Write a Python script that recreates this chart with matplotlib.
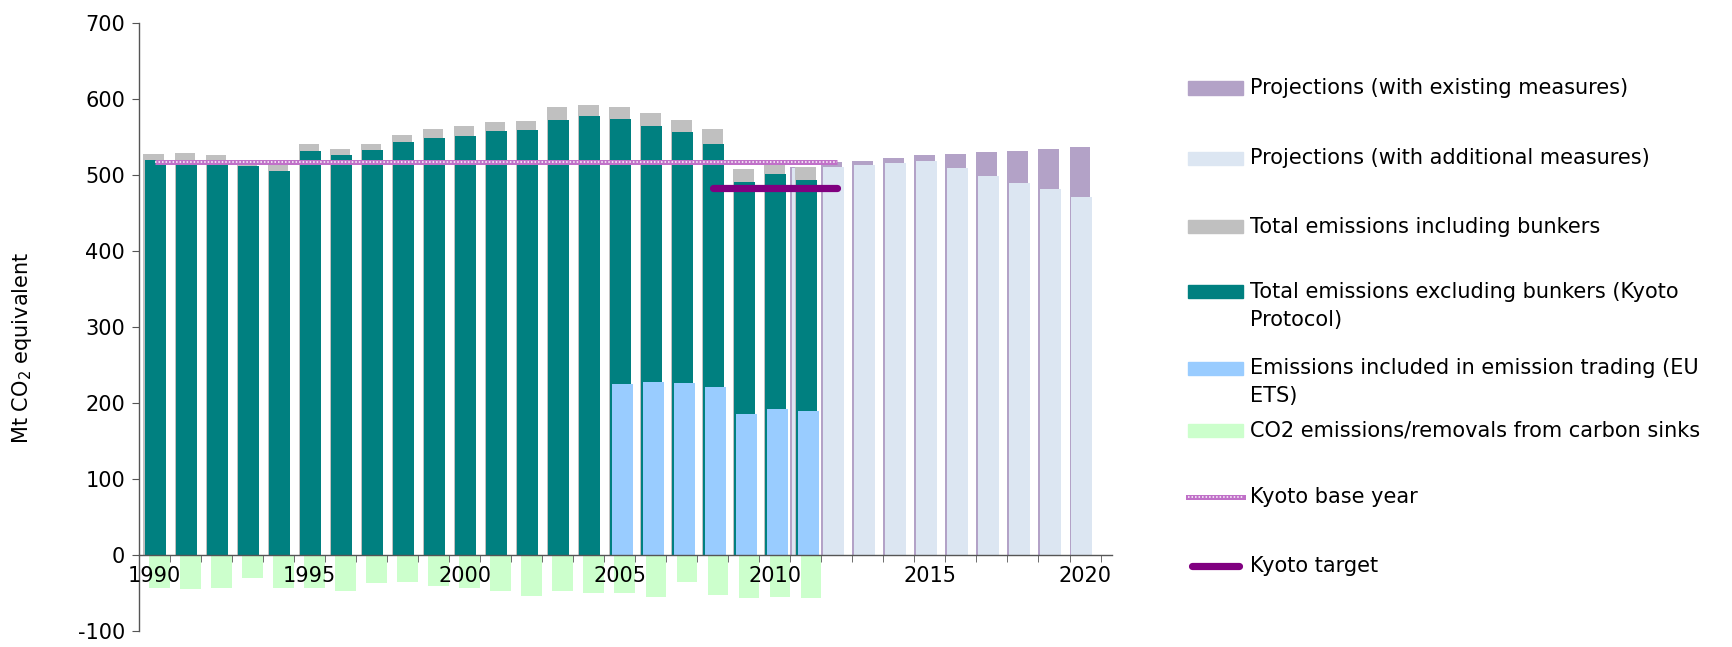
import matplotlib
matplotlib.use('Agg')
import matplotlib.pyplot as plt
import numpy as np
from matplotlib.patches import Rectangle
from matplotlib.lines import Line2D

plt.rcParams['axes.unicode_minus'] = False

# data (Mt CO2 equivalent)
years = list(range(1990, 2021))
hist_years = list(range(1990, 2012))
incl_bunkers = [527, 529, 526, 514, 514, 541, 534, 541, 553, 560, 564,
                570, 571, 589, 592, 590, 581, 573, 560, 508, 514, 511]
excl_bunkers = [520, 519, 515, 512, 505, 532, 526, 533, 543, 549, 551,
                558, 559, 573, 577, 574, 564, 556, 541, 491, 501, 494]
ets_years = list(range(2005, 2012))
ets = [225, 227, 226, 221, 185, 192, 190]
sinks = [-44, -45, -44, -30, -44, -44, -48, -37, -36, -41, -44,
         -48, -54, -47, -50, -50, -55, -35, -52, -56, -55, -57]
proj_years = list(range(2011, 2021))
proj_existing = [511, 517, 518, 522, 526, 528, 530, 532, 534, 537]
proj_additional = [509, 511, 513, 516, 518, 509, 499, 490, 481, 471]
base_years = list(range(1990, 2013))
kyoto_base = [517] * len(base_years)
target_years = list(range(2008, 2013))
kyoto_target = [483] * len(target_years)

c_teal = '#008080'
c_gray = '#c0c0c0'
c_ets = '#99ccff'
c_sink = '#ccffcc'
c_exist = '#b3a2c7'
c_add = '#dce6f2'
c_target = '#800080'
c_base = '#c070c8'
fs = 15

W, H = 1732, 647
fig = plt.figure(figsize=(W / 100, H / 100), dpi=100)
ax = fig.add_axes([139 / W, (H - 631) / H, (1112 - 139) / W, (631 - 23) / H])


def pos(yrs, off):
    return np.array(yrs) - 1990 + off


bw = 0.67
ax.bar(pos(proj_years, -0.165), proj_existing, bw, color=c_exist, zorder=1)
ax.bar(pos(proj_years, -0.105), proj_additional, bw, color=c_add, zorder=2)
ax.bar(pos(hist_years, -0.02), incl_bunkers, bw, color=c_gray, zorder=3)
ax.bar(pos(hist_years, 0.025), excl_bunkers, bw, color=c_teal, zorder=4)
ax.bar(pos(ets_years, 0.09), ets, bw, color=c_ets, zorder=5)
ax.bar(pos(hist_years, 0.165), sinks, bw, color=c_sink, zorder=5)

ax.plot(pos(base_years, 0), kyoto_base, color=c_base, lw=3.6, zorder=6,
        solid_capstyle='butt')
ax.plot(pos(base_years, 0), kyoto_base, color='white', lw=1.1, zorder=7,
        linestyle=(0, (1, 1.3)))
ax.plot(pos(target_years, 0), kyoto_target, color=c_target, lw=5.2, zorder=8,
        solid_capstyle='round')

ax.set_xlim(-0.5, 30.87)
ax.set_ylim(-100, 700)
ax.set_yticks(range(-100, 701, 100))
ax.set_xticks(range(0, 31, 5))
ax.set_xticklabels([str(y) for y in years[::5]])
ax.set_xticks(np.arange(-0.5, 31, 1), minor=True)

for s in ['top', 'right']:
    ax.spines[s].set_visible(False)
ax.spines['bottom'].set_position(('data', 0))
for s in ['left', 'bottom']:
    ax.spines[s].set_color('#555555')
    ax.spines[s].set_linewidth(1.0)
    ax.spines[s].set_zorder(9)
ax.xaxis.set_zorder(10)

ax.tick_params(axis='x', which='major', length=0, labelsize=fs, pad=8)
ax.tick_params(axis='x', which='minor', length=5, direction='out',
               color='#555555')
ax.tick_params(axis='y', length=5, direction='out', color='#555555',
               labelsize=fs, pad=5)

fig.text(22 / W, 1 - 348 / H, 'Mt CO$_2$ equivalent', rotation=90,
         ha='center', va='center', fontsize=fs)

# legend, drawn by hand so wrapped labels line up with the first line
items = [
    ('patch', c_exist, 'Projections (with existing measures)', 88),
    ('patch', c_add, 'Projections (with additional measures)', 158),
    ('patch', c_gray, 'Total emissions including bunkers', 227),
    ('patch', c_teal, 'Total emissions excluding bunkers (Kyoto\nProtocol)', 292),
    ('patch', c_ets, 'Emissions included in emission trading (EU\nETS)', 368),
    ('patch', c_sink, 'CO2 emissions/removals from carbon sinks', 430),
    ('base', c_base, 'Kyoto base year', 497),
    ('target', c_target, 'Kyoto target', 566),
]
x0, x1, xt = 1188, 1243, 1250
for kind, col, label, yc in items:
    yf = 1 - yc / H
    if kind == 'patch':
        fig.add_artist(Rectangle((x0 / W, yf - 6.5 / H), (x1 - x0) / W, 13 / H,
                                 transform=fig.transFigure, color=col))
    elif kind == 'base':
        fig.add_artist(Line2D([x0 / W, x1 / W], [yf, yf], color=col,
                              lw=3.6, transform=fig.transFigure))
        fig.add_artist(Line2D([x0 / W, x1 / W], [yf, yf], color='white',
                              lw=1.1, linestyle=(0, (1, 1.3)),
                              transform=fig.transFigure))
    else:
        fig.add_artist(Line2D([(x0 + 4) / W, (x1 - 4) / W], [yf, yf], color=col,
                              lw=5.2, solid_capstyle='round',
                              transform=fig.transFigure))
    lines = label.split('\n')
    fig.text(xt / W, yf, lines[0], ha='left', va='center', fontsize=fs)
    if len(lines) > 1:
        fig.text(xt / W, yf - 28 / H, lines[1], ha='left', va='center',
                 fontsize=fs)

fig.savefig('out.png', dpi=100)
